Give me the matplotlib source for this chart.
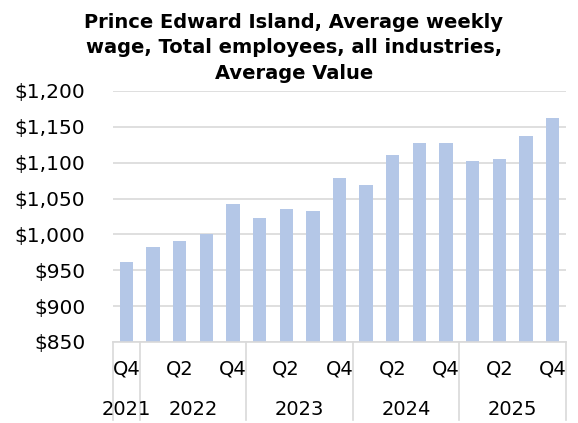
import matplotlib
matplotlib.use("Agg")
import matplotlib.pyplot as plt
import matplotlib.ticker as tk
import matplotlib.transforms as mtrans

# Data
quarters = ['Q4', 'Q1', 'Q2', 'Q3', 'Q4', 'Q1', 'Q2', 'Q3', 'Q4',
            'Q1', 'Q2', 'Q3', 'Q4', 'Q1', 'Q2', 'Q3', 'Q4']
wages = [962, 983, 991, 1000, 1043, 1023, 1035, 1033, 1079,
         1069, 1111, 1127, 1127, 1103, 1105, 1137, 1163]
years = ['2021', '2022', '2023', '2024', '2025']
year_span = [(0, 0), (1, 4), (5, 8), (9, 12), (13, 16)]

title = 'Prince Edward Island, Average weekly\nwage, Total employees, all industries,\nAverage Value'

plt.rcParams['font.family'] = ['DejaVu Sans']

fig = plt.figure(figsize=(5.78, 4.23), dpi=100)
W, H = 578, 423
ax = fig.add_axes([113 / W, 1 - 342 / H, (566 - 113) / W, (342 - 91) / H])

x = list(range(len(wages)))
ax.bar(x, wages, width=0.5, color='#b4c7e7', zorder=2)

ax.set_ylim(850, 1200)
ax.set_xlim(-0.5, len(wages) - 0.5)
ax.yaxis.set_major_locator(tk.MultipleLocator(50))
ax.yaxis.set_major_formatter(tk.FuncFormatter(lambda v, p: '${:,.0f}'.format(v)))
ax.grid(axis='y', color='#d9d9d9', linewidth=1.2, zorder=0)
for s in ['top', 'right', 'left']:
    ax.spines[s].set_visible(False)
ax.spines['bottom'].set_color('#d9d9d9')
ax.spines['bottom'].set_linewidth(1.2)
ax.tick_params(axis='y', length=0, labelsize=14.5, pad=20)
ax.tick_params(axis='x', length=0)
ax.set_xticks([])

# two-level category axis
trans = mtrans.blended_transform_factory(ax.transData, ax.transAxes)
for i, q in enumerate(quarters):
    if i % 2 == 0:
        ax.text(i, -0.108, q, transform=trans, ha='center', va='center',
                fontsize=14)
for yr, (a, b) in zip(years, year_span):
    ax.text((a + b) / 2, -0.27, yr, transform=trans, ha='center', va='center',
            fontsize=14)
bounds = [-0.5] + [b + 0.5 for a, b in year_span]
for bx in bounds:
    ax.plot([bx, bx], [0, -0.31], transform=trans, color='#d9d9d9',
            linewidth=1.2, clip_on=False)

fig.text(294 / W, 1 - 13 / H, title, ha='center', va='top', fontsize=14,
         fontweight='bold', linespacing=1.42)

fig.savefig('out.png', dpi=100)
